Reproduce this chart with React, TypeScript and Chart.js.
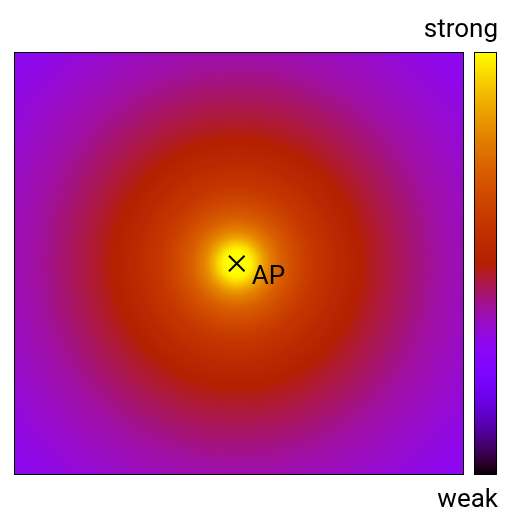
import React, { useEffect, useRef } from 'react';
import { Chart, registerables } from 'chart.js';

Chart.register(...registerables);

// Floor extent (metres)
const xRange = [0, 20];
const yRange = [0, 18.8];

// Access point position
const apPosition = { x: 9.9, y: 9.4 };
const apLabel = 'AP';

// Radial signal profile: distance from AP (m) -> normalized strength
const distances = [0, 0.4, 0.6, 0.8, 1.0, 1.25, 1.5, 2.0, 2.5, 3.0, 3.5, 4.0, 4.5, 5.0, 5.5, 6.0, 7.0, 8.0, 9.0, 10.0, 11.0, 12.0, 13.0, 14.0];
const strengths = [1.0, 1.0, 0.99, 0.95, 0.9, 0.84, 0.79, 0.72, 0.67, 0.63, 0.59, 0.57, 0.54, 0.52, 0.5, 0.48, 0.45, 0.42, 0.39, 0.37, 0.35, 0.33, 0.31, 0.3];

// Colour bar labels
const colorbarTop = 'strong';
const colorbarBottom = 'weak';

function palette(v: number): string {
  const t = Math.min(1, Math.max(0, v));
  const r = Math.sqrt(t);
  const g = t * t * t;
  const b = Math.max(0, Math.sin(2 * Math.PI * t));
  return `rgb(${Math.round(r * 255)},${Math.round(g * 255)},${Math.round(b * 255)})`;
}

const FONT = '26px Roboto, "Noto Sans", sans-serif';

const heatmapPlugin = {
  id: 'heatmap',
  beforeDatasetsDraw(chart: any) {
    const { ctx, chartArea, scales } = chart;
    const xs = scales.x;
    const ys = scales.y;
    const cx = xs.getPixelForValue(apPosition.x);
    const cy = ys.getPixelForValue(apPosition.y);
    const maxD = distances[distances.length - 1];
    const rMax = xs.getPixelForValue(apPosition.x + maxD) - cx;
    ctx.save();
    ctx.beginPath();
    ctx.rect(chartArea.left, chartArea.top, chartArea.right - chartArea.left, chartArea.bottom - chartArea.top);
    ctx.clip();
    const grad = ctx.createRadialGradient(cx, cy, 0, cx, cy, rMax);
    distances.forEach((d, i) => {
      grad.addColorStop(Math.min(1, d / maxD), palette(strengths[i]));
    });
    ctx.fillStyle = grad;
    ctx.fillRect(chartArea.left, chartArea.top, chartArea.right - chartArea.left, chartArea.bottom - chartArea.top);
    ctx.restore();
  },
  afterDatasetsDraw(chart: any) {
    const { ctx, chartArea, scales } = chart;
    const xs = scales.x;
    const ys = scales.y;
    ctx.save();
    // plot frame
    ctx.strokeStyle = '#000';
    ctx.lineWidth = 1;
    ctx.strokeRect(chartArea.left + 0.5, chartArea.top + 0.5, chartArea.right - chartArea.left - 1, chartArea.bottom - chartArea.top - 1);

    // AP label
    const cx = xs.getPixelForValue(apPosition.x);
    const cy = ys.getPixelForValue(apPosition.y);
    ctx.fillStyle = '#000';
    ctx.font = FONT;
    ctx.textAlign = 'left';
    ctx.textBaseline = 'alphabetic';
    ctx.fillText(apLabel, cx + 15, cy + 20);

    // colour bar
    const barLeft = chartArea.right + 10;
    const barRight = barLeft + 23;
    const barTop = chartArea.top;
    const barBottom = chartArea.bottom;
    const lg = ctx.createLinearGradient(0, barBottom, 0, barTop);
    for (let i = 0; i <= 50; i++) {
      lg.addColorStop(i / 50, palette(i / 50));
    }
    ctx.fillStyle = lg;
    ctx.fillRect(barLeft, barTop, barRight - barLeft, barBottom - barTop);
    ctx.strokeRect(barLeft + 0.5, barTop + 0.5, barRight - barLeft - 1, barBottom - barTop - 1);

    ctx.fillStyle = '#000';
    ctx.font = FONT;
    ctx.textAlign = 'right';
    ctx.fillText(colorbarTop, barRight + 1, barTop - 15);
    ctx.fillText(colorbarBottom, barRight + 1, barBottom + 32);
    ctx.restore();
  },
};

export default function App() {
  const canvasRef = useRef<HTMLCanvasElement | null>(null);

  useEffect(() => {
    if (!canvasRef.current) return;
    const chart = new Chart(canvasRef.current, {
      type: 'scatter',
      data: {
        datasets: [
          {
            label: apLabel,
            data: [{ x: apPosition.x, y: apPosition.y }],
            pointStyle: 'crossRot',
            pointRadius: 11,
            pointBorderWidth: 2,
            borderColor: '#000',
            backgroundColor: '#000',
          },
        ],
      },
      options: {
        responsive: false,
        animation: false,
        events: [],
        layout: { padding: { left: 14, top: 52, right: 48, bottom: 37 } },
        scales: {
          x: { type: 'linear', min: xRange[0], max: xRange[1], display: false },
          y: { type: 'linear', min: yRange[0], max: yRange[1], display: false },
        },
        plugins: { legend: { display: false }, tooltip: { enabled: false } },
      },
      plugins: [heatmapPlugin],
    });
    return () => chart.destroy();
  }, []);

  return (
    <div style={{ position: 'absolute', left: 0, top: 0, width: 512, height: 512, background: '#fff' }}>
      <canvas ref={canvasRef} width={512} height={512} style={{ display: 'block' }} />
    </div>
  );
}
